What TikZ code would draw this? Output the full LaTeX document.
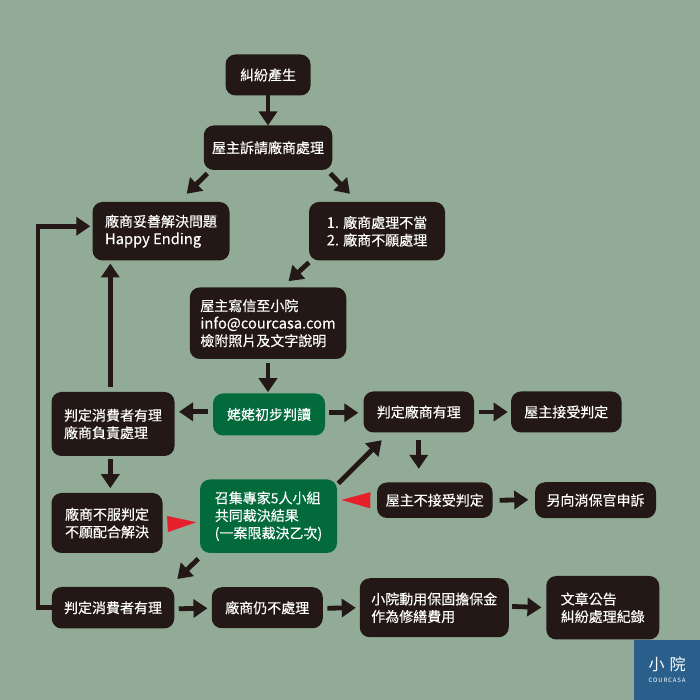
\documentclass[tikz,border=0pt]{standalone}
\usepackage{fontspec}
\setmainfont{Noto Sans CJK TC}[FakeBold=0.2]
\newfontfamily\logofont{Noto Sans CJK TC}
\usepackage{xcolor}
\usetikzlibrary{arrows.meta,positioning}
\definecolor{bgsage}{HTML}{91AB96}
\definecolor{boxdark}{HTML}{231815}
\definecolor{boxgreen}{HTML}{036B3B}
\definecolor{tipred}{HTML}{E71F2A}
\definecolor{logoblue}{HTML}{2A5F8C}
\newcommand{\latintext}[1]{{\fontsize{14.7}{17.5}\selectfont #1}}

\begin{document}
\begin{tikzpicture}[
  x=1pt,y=1pt,
  node distance=30pt,
  box/.style={fill=boxdark,text=white,rounded corners=10pt,align=left,inner sep=0pt,outer sep=0pt,font=\fontsize{14}{17.5}\selectfont},
  greenbox/.style={box,fill=boxgreen},
  flow/.style={draw=boxdark,line width=4.8pt,-{Triangle[length=14pt,width=18pt]}},
  redtip/.style={draw=tipred,line width=.1pt,-{Triangle[length=28.5pt,width=16pt]},tipred}
]
\useasboundingbox (0,0) rectangle (700,700);
\fill[bgsage] (0,0) rectangle (700,700);
\node[box,minimum width=85pt,minimum height=41pt,at={(268,625)}] (dispute) {糾紛產生};
\node[box,minimum width=128.5pt,minimum height=44.5pt,below=30pt of dispute] (request) {屋主訴請廠商處理};
\node[box,minimum width=137pt,minimum height=58.5pt,below=32pt of request,xshift=-107pt] (happy) {廠商妥善解決問題\\\latintext{Happy Ending}};
\node[box,minimum width=136pt,minimum height=58.5pt,below=32pt of request,xshift=109pt] (improper) {\latintext{1.} 廠商處理不當\\\latintext{2.} 廠商不願處理};
\node[box,minimum width=156.5pt,minimum height=71.5pt,below=27pt of improper,xshift=-109pt] (letter) {屋主寫信至小院\\\latintext{info@courcasa.com}\\檢附照片及文字說明};
\node[greenbox,minimum width=112pt,minimum height=42pt,below=34.5pt of letter,xshift=1pt] (granny) {姥姥初步判讀};
\node[box,minimum width=123pt,minimum height=64pt,left=38.5pt of granny,yshift=-9.5pt] (consumer) {判定消費者有理\\廠商負責處理};
\node[box,minimum width=110.5pt,minimum height=41pt,right=38.5pt of granny,yshift=2.5pt] (vendor) {判定廠商有理};
\node[box,minimum width=110.5pt,minimum height=41pt,right=37pt of vendor] (accept) {屋主接受判定};
\node[greenbox,minimum width=137pt,minimum height=73.5pt,below=44pt of granny,xshift=-.5pt] (panel) {召集專家5人小組\\共同裁決結果\\(一案限裁決乙次)};
\node[box,minimum width=111pt,minimum height=60pt,below=37pt of consumer,xshift=-6pt] (refuse) {廠商不服判定\\不願配合解決};
\node[box,minimum width=115.5pt,minimum height=35.5pt,below=50pt of vendor,xshift=16pt] (reject) {屋主不接受判定};
\node[box,minimum width=121pt,minimum height=36pt,right=42.5pt of reject] (appeal) {另向消保官申訴};
\node[box,minimum width=122.5pt,minimum height=41.5pt,below=34pt of refuse,xshift=6pt] (ruling) {判定消費者有理};
\node[box,minimum width=111pt,minimum height=41pt,right=37.5pt of ruling] (still) {廠商仍不處理};
\node[box,minimum width=149pt,minimum height=59pt,right=37pt of still] (bond) {小院動用保固擔保金\\作為修繕費用};
\node[box,minimum width=113pt,minimum height=63.5pt,right=37.5pt of bond] (notice) {文章公告\\糾紛處理紀錄};
\node[fill=logoblue,text=white,minimum width=66pt,minimum height=60pt,inner sep=0pt,align=center,at={(667,30)}] (logo) {{\logofont\fontsize{16}{17}\selectfont 小\hspace{5pt}院}\\[0pt]{\logofont\fontsize{6}{7}\selectfont\addfontfeature{LetterSpace=14}COURCASA}};
\draw[flow] (dispute) -- (request);
\draw[flow] ([shift={(3.5,-3.5)}]request.south west) -- ([shift={(25.7,8.2)}]happy.north);
\draw[flow] ([shift={(-2,-3.5)}]request.south east) -- ([shift={(-27,8.2)}]improper.north);
\draw[flow] ([shift={(0,-2)}]improper.south west) -- ([shift={(20.5,6.3)}]letter.north);
\draw[flow] ([yshift=-4.5pt]letter.south) -- ([shift={(-1,1.3)}]granny.north);
\draw[flow] ([shift={(-2.7,4.5)}]consumer.north) -- ([shift={(-50.7,-3)}]happy.south);
\draw[flow] ([shift={(-5,2.7)}]granny.west) -- ([shift={(4.5,12.2)}]consumer.east);
\draw[flow] ([shift={(3.7,1.7)}]granny.east) -- ([shift={(-5.2,-.8)}]vendor.west);
\draw[flow] ([xshift=4.7pt]vendor.east) -- ([xshift=-3.3pt]accept.west);
\draw[flow] ([shift={(0,-7.7)}]vendor.south) -- ([shift={(-16,13.7)}]reject.north);
\draw[flow] ([shift={(1.3,-4)}]panel.north east) -- ([shift={(18.2,-7.7)}]vendor.south west);
\draw[flow] ([shift={(-2.7,-3.5)}]consumer.south) -- ([shift={(3.3,4.8)}]refuse.north);
\draw[flow] ([xshift=7.2pt]reject.east) -- ([shift={(-6.7,.5)}]appeal.west);
\draw[flow] ([shift={(-1.7,-5.8)}]panel.south west) -- ([shift={(64.3,8)}]ruling.north);
\draw[flow] ([shift={(4.5,-1)}]ruling.east) -- ([shift={(-4.3,-.5)}]still.west);
\draw[flow] ([shift={(4.7,-.5)}]still.east) -- ([xshift=-4pt]bond.west);
\draw[flow] ([shift={(3.3,1.3)}]bond.east) -- ([shift={(-4.8,.3)}]notice.west);
\draw[flow] (ruling.west) -| ([shift={(-54.5,5)}]happy.west) -- ([shift={(-2.2,5)}]happy.west);
\draw[redtip] ([shift={(5,-1)}]refuse.east) -- ([shift={(-4,-6)}]panel.west);
\draw[redtip] ([xshift=-7pt]reject.west) -- ([shift={(4.7,16.3)}]panel.east);
\end{tikzpicture}
\end{document}
